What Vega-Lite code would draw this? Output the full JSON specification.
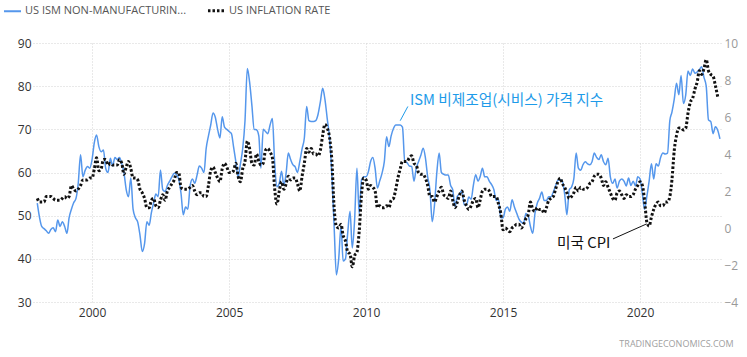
{
"$schema": "https://vega.github.io/schema/vega-lite/v6.json",
"width": 688, "height": 259,
"autosize": {"type": "none"},
"padding": {"left": 33, "top": 43, "right": 26, "bottom": 55},
"title": {"text": "TRADINGECONOMICS.COM", "orient": "bottom", "anchor": "end", "fontSize": 9, "fontWeight": "normal", "color": "#a0a0a0", "font": "Open Sans", "offset": 22, "dx": -4},
"config": {
  "view": {"stroke": null},
  "font": "Open Sans",
  "axis": {"domain": false, "ticks": false, "grid": true, "gridColor": "#d2d2d2", "gridDash": [1, 2], "gridWidth": 1, "labelFontSize": 12, "labelFont": "Open Sans"}
},
"datasets": {"series": [
{"d":"1998-01-01","ism":52.9,"cpi":1.6},{"d":"1998-02-01","ism":49.5,"cpi":1.4},{"d":"1998-03-01","ism":47.5,"cpi":1.4},{"d":"1998-04-01","ism":47.0,"cpi":1.4},{"d":"1998-05-01","ism":46.5,"cpi":1.7},{"d":"1998-06-01","ism":45.9,"cpi":1.7},{"d":"1998-07-01","ism":46.8,"cpi":1.7},{"d":"1998-08-01","ism":47.2,"cpi":1.6},{"d":"1998-09-01","ism":46.3,"cpi":1.5},{"d":"1998-10-01","ism":49.0,"cpi":1.5},{"d":"1998-11-01","ism":47.5,"cpi":1.5},{"d":"1998-12-01","ism":48.6,"cpi":1.6},
{"d":"1999-01-01","ism":47.5,"cpi":1.7},{"d":"1999-02-01","ism":45.9,"cpi":1.6},{"d":"1999-03-01","ism":49.5,"cpi":1.7},{"d":"1999-04-01","ism":51.5,"cpi":2.3},{"d":"1999-05-01","ism":53.0,"cpi":2.1},{"d":"1999-06-01","ism":54.0,"cpi":2.0},{"d":"1999-07-01","ism":57.5,"cpi":2.1},{"d":"1999-08-01","ism":64.1,"cpi":2.3},{"d":"1999-09-01","ism":59.0,"cpi":2.6},{"d":"1999-10-01","ism":60.5,"cpi":2.6},{"d":"1999-11-01","ism":61.4,"cpi":2.6},{"d":"1999-12-01","ism":61.0,"cpi":2.7},
{"d":"2000-01-01","ism":63.0,"cpi":2.7},{"d":"2000-02-01","ism":67.0,"cpi":3.2},{"d":"2000-03-01","ism":68.7,"cpi":3.8},{"d":"2000-04-01","ism":66.0,"cpi":3.1},{"d":"2000-05-01","ism":64.8,"cpi":3.2},{"d":"2000-06-01","ism":65.2,"cpi":3.7},{"d":"2000-07-01","ism":61.0,"cpi":3.7},{"d":"2000-08-01","ism":60.0,"cpi":3.4},{"d":"2000-09-01","ism":63.3,"cpi":3.5},{"d":"2000-10-01","ism":61.5,"cpi":3.4},{"d":"2000-11-01","ism":63.5,"cpi":3.4},{"d":"2000-12-01","ism":63.0,"cpi":3.4},
{"d":"2001-01-01","ism":63.5,"cpi":3.7},{"d":"2001-02-01","ism":62.0,"cpi":3.5},{"d":"2001-03-01","ism":60.0,"cpi":2.9},{"d":"2001-04-01","ism":56.0,"cpi":3.3},{"d":"2001-05-01","ism":54.4,"cpi":3.6},{"d":"2001-06-01","ism":58.7,"cpi":3.2},{"d":"2001-07-01","ism":51.5,"cpi":2.7},{"d":"2001-08-01","ism":49.5,"cpi":2.7},{"d":"2001-09-01","ism":48.5,"cpi":2.6},{"d":"2001-10-01","ism":45.5,"cpi":2.1},{"d":"2001-11-01","ism":41.7,"cpi":1.9},{"d":"2001-12-01","ism":43.5,"cpi":1.6},
{"d":"2002-01-01","ism":48.6,"cpi":1.1},{"d":"2002-02-01","ism":47.8,"cpi":1.1},{"d":"2002-03-01","ism":50.6,"cpi":1.5},{"d":"2002-04-01","ism":53.0,"cpi":1.6},{"d":"2002-05-01","ism":55.0,"cpi":1.2},{"d":"2002-06-01","ism":54.4,"cpi":1.1},{"d":"2002-07-01","ism":60.6,"cpi":1.5},{"d":"2002-08-01","ism":56.0,"cpi":1.8},{"d":"2002-09-01","ism":55.6,"cpi":1.5},{"d":"2002-10-01","ism":57.0,"cpi":2.0},{"d":"2002-11-01","ism":58.0,"cpi":2.2},{"d":"2002-12-01","ism":59.0,"cpi":2.4},
{"d":"2003-01-01","ism":59.8,"cpi":2.6},{"d":"2003-02-01","ism":59.5,"cpi":3.0},{"d":"2003-03-01","ism":58.5,"cpi":3.0},{"d":"2003-04-01","ism":55.2,"cpi":2.2},{"d":"2003-05-01","ism":50.2,"cpi":2.1},{"d":"2003-06-01","ism":52.0,"cpi":2.1},{"d":"2003-07-01","ism":51.5,"cpi":2.1},{"d":"2003-08-01","ism":57.0,"cpi":2.2},{"d":"2003-09-01","ism":58.5,"cpi":2.3},{"d":"2003-10-01","ism":57.5,"cpi":2.0},{"d":"2003-11-01","ism":59.4,"cpi":1.8},{"d":"2003-12-01","ism":61.5,"cpi":1.9},
{"d":"2004-01-01","ism":61.0,"cpi":1.9},{"d":"2004-02-01","ism":60.0,"cpi":1.7},{"d":"2004-03-01","ism":65.5,"cpi":1.7},{"d":"2004-04-01","ism":68.5,"cpi":2.3},{"d":"2004-05-01","ism":71.0,"cpi":3.1},{"d":"2004-06-01","ism":73.8,"cpi":3.3},{"d":"2004-07-01","ism":72.8,"cpi":3.0},{"d":"2004-08-01","ism":70.0,"cpi":2.7},{"d":"2004-09-01","ism":68.0,"cpi":2.5},{"d":"2004-10-01","ism":72.9,"cpi":3.2},{"d":"2004-11-01","ism":70.5,"cpi":3.5},{"d":"2004-12-01","ism":70.0,"cpi":3.3},
{"d":"2005-01-01","ism":69.5,"cpi":3.0},{"d":"2005-02-01","ism":69.0,"cpi":3.0},{"d":"2005-03-01","ism":66.0,"cpi":3.1},{"d":"2005-04-01","ism":62.5,"cpi":3.5},{"d":"2005-05-01","ism":59.0,"cpi":2.8},{"d":"2005-06-01","ism":62.0,"cpi":2.5},{"d":"2005-07-01","ism":65.5,"cpi":3.2},{"d":"2005-08-01","ism":72.0,"cpi":3.6},{"d":"2005-09-01","ism":84.1,"cpi":4.7},{"d":"2005-10-01","ism":81.0,"cpi":4.3},{"d":"2005-11-01","ism":75.5,"cpi":3.5},{"d":"2005-12-01","ism":70.0,"cpi":3.4},
{"d":"2006-01-01","ism":69.9,"cpi":4.0},{"d":"2006-02-01","ism":68.5,"cpi":3.6},{"d":"2006-03-01","ism":61.0,"cpi":3.4},{"d":"2006-04-01","ism":70.0,"cpi":3.5},{"d":"2006-05-01","ism":69.5,"cpi":4.2},{"d":"2006-06-01","ism":69.0,"cpi":4.3},{"d":"2006-07-01","ism":71.0,"cpi":4.1},{"d":"2006-08-01","ism":72.5,"cpi":3.8},{"d":"2006-09-01","ism":62.0,"cpi":2.1},{"d":"2006-10-01","ism":56.7,"cpi":1.3},{"d":"2006-11-01","ism":57.5,"cpi":2.0},{"d":"2006-12-01","ism":60.3,"cpi":2.5},
{"d":"2007-01-01","ism":57.0,"cpi":2.1},{"d":"2007-02-01","ism":60.0,"cpi":2.4},{"d":"2007-03-01","ism":64.5,"cpi":2.8},{"d":"2007-04-01","ism":63.0,"cpi":2.6},{"d":"2007-05-01","ism":61.8,"cpi":2.7},{"d":"2007-06-01","ism":61.3,"cpi":2.7},{"d":"2007-07-01","ism":60.0,"cpi":2.4},{"d":"2007-08-01","ism":62.5,"cpi":2.0},{"d":"2007-09-01","ism":65.5,"cpi":2.8},{"d":"2007-10-01","ism":68.0,"cpi":3.5},{"d":"2007-11-01","ism":75.3,"cpi":4.3},{"d":"2007-12-01","ism":72.0,"cpi":4.1},
{"d":"2008-01-01","ism":71.8,"cpi":4.3},{"d":"2008-02-01","ism":71.8,"cpi":4.0},{"d":"2008-03-01","ism":72.0,"cpi":4.0},{"d":"2008-04-01","ism":73.5,"cpi":3.9},{"d":"2008-05-01","ism":76.3,"cpi":4.2},{"d":"2008-06-01","ism":79.5,"cpi":5.0},{"d":"2008-07-01","ism":77.0,"cpi":5.6},{"d":"2008-08-01","ism":72.5,"cpi":5.4},{"d":"2008-09-01","ism":68.0,"cpi":4.9},{"d":"2008-10-01","ism":59.8,"cpi":3.7},{"d":"2008-11-01","ism":47.5,"cpi":1.1},{"d":"2008-12-01","ism":36.3,"cpi":0.1},
{"d":"2009-01-01","ism":40.0,"cpi":0.0},{"d":"2009-02-01","ism":47.5,"cpi":0.2},{"d":"2009-03-01","ism":39.5,"cpi":-0.4},{"d":"2009-04-01","ism":40.0,"cpi":-0.7},{"d":"2009-05-01","ism":46.0,"cpi":-1.3},{"d":"2009-06-01","ism":51.0,"cpi":-1.4},{"d":"2009-07-01","ism":42.5,"cpi":-2.1},{"d":"2009-08-01","ism":49.0,"cpi":-1.5},{"d":"2009-09-01","ism":61.0,"cpi":-1.3},{"d":"2009-10-01","ism":50.5,"cpi":-0.2},{"d":"2009-11-01","ism":58.3,"cpi":1.8},{"d":"2009-12-01","ism":59.0,"cpi":2.7},
{"d":"2010-01-01","ism":59.0,"cpi":2.6},{"d":"2010-02-01","ism":60.2,"cpi":2.1},{"d":"2010-03-01","ism":62.5,"cpi":2.3},{"d":"2010-04-01","ism":63.5,"cpi":2.2},{"d":"2010-05-01","ism":61.0,"cpi":2.0},{"d":"2010-06-01","ism":56.4,"cpi":1.1},{"d":"2010-07-01","ism":58.0,"cpi":1.2},{"d":"2010-08-01","ism":59.8,"cpi":1.1},{"d":"2010-09-01","ism":62.5,"cpi":1.1},{"d":"2010-10-01","ism":68.3,"cpi":1.2},{"d":"2010-11-01","ism":66.0,"cpi":1.1},{"d":"2010-12-01","ism":68.5,"cpi":1.5},
{"d":"2011-01-01","ism":70.2,"cpi":1.6},{"d":"2011-02-01","ism":71.0,"cpi":2.1},{"d":"2011-03-01","ism":71.0,"cpi":2.7},{"d":"2011-04-01","ism":71.0,"cpi":3.2},{"d":"2011-05-01","ism":70.5,"cpi":3.6},{"d":"2011-06-01","ism":62.5,"cpi":3.6},{"d":"2011-07-01","ism":62.3,"cpi":3.6},{"d":"2011-08-01","ism":61.5,"cpi":3.8},{"d":"2011-09-01","ism":61.4,"cpi":3.9},{"d":"2011-10-01","ism":58.0,"cpi":3.5},{"d":"2011-11-01","ism":61.0,"cpi":3.4},{"d":"2011-12-01","ism":62.5,"cpi":3.0},
{"d":"2012-01-01","ism":64.0,"cpi":2.9},{"d":"2012-02-01","ism":65.6,"cpi":2.9},{"d":"2012-03-01","ism":63.5,"cpi":2.7},{"d":"2012-04-01","ism":59.0,"cpi":2.3},{"d":"2012-05-01","ism":56.0,"cpi":1.7},{"d":"2012-06-01","ism":48.6,"cpi":1.7},{"d":"2012-07-01","ism":52.5,"cpi":1.4},{"d":"2012-08-01","ism":60.0,"cpi":1.7},{"d":"2012-09-01","ism":64.5,"cpi":2.0},{"d":"2012-10-01","ism":60.0,"cpi":2.2},{"d":"2012-11-01","ism":59.6,"cpi":1.8},{"d":"2012-12-01","ism":59.4,"cpi":1.7},
{"d":"2013-01-01","ism":59.4,"cpi":1.6},{"d":"2013-02-01","ism":57.0,"cpi":2.0},{"d":"2013-03-01","ism":56.0,"cpi":1.5},{"d":"2013-04-01","ism":52.1,"cpi":1.1},{"d":"2013-05-01","ism":54.5,"cpi":1.4},{"d":"2013-06-01","ism":55.0,"cpi":1.8},{"d":"2013-07-01","ism":55.9,"cpi":2.0},{"d":"2013-08-01","ism":52.5,"cpi":1.5},{"d":"2013-09-01","ism":52.5,"cpi":1.2},{"d":"2013-10-01","ism":54.3,"cpi":1.0},{"d":"2013-11-01","ism":53.8,"cpi":1.2},{"d":"2013-12-01","ism":57.0,"cpi":1.5},
{"d":"2014-01-01","ism":59.5,"cpi":1.6},{"d":"2014-02-01","ism":58.0,"cpi":1.1},{"d":"2014-03-01","ism":59.0,"cpi":1.5},{"d":"2014-04-01","ism":61.0,"cpi":2.0},{"d":"2014-05-01","ism":59.0,"cpi":2.1},{"d":"2014-06-01","ism":59.0,"cpi":2.1},{"d":"2014-07-01","ism":58.0,"cpi":2.0},{"d":"2014-08-01","ism":57.2,"cpi":1.7},{"d":"2014-09-01","ism":56.0,"cpi":1.7},{"d":"2014-10-01","ism":53.5,"cpi":1.7},{"d":"2014-11-01","ism":53.8,"cpi":1.3},{"d":"2014-12-01","ism":49.5,"cpi":0.8},
{"d":"2015-01-01","ism":49.5,"cpi":-0.1},{"d":"2015-02-01","ism":51.5,"cpi":0.0},{"d":"2015-03-01","ism":52.0,"cpi":-0.1},{"d":"2015-04-01","ism":51.0,"cpi":-0.2},{"d":"2015-05-01","ism":53.7,"cpi":0.0},{"d":"2015-06-01","ism":52.0,"cpi":0.1},{"d":"2015-07-01","ism":50.6,"cpi":0.2},{"d":"2015-08-01","ism":49.2,"cpi":0.2},{"d":"2015-09-01","ism":48.5,"cpi":0.0},{"d":"2015-10-01","ism":48.2,"cpi":0.2},{"d":"2015-11-01","ism":50.5,"cpi":0.5},{"d":"2015-12-01","ism":50.0,"cpi":0.7},
{"d":"2016-01-01","ism":47.5,"cpi":1.4},{"d":"2016-02-01","ism":45.9,"cpi":1.0},{"d":"2016-03-01","ism":50.5,"cpi":0.9},{"d":"2016-04-01","ism":52.9,"cpi":1.1},{"d":"2016-05-01","ism":54.0,"cpi":1.0},{"d":"2016-06-01","ism":55.5,"cpi":1.0},{"d":"2016-07-01","ism":53.5,"cpi":0.8},{"d":"2016-08-01","ism":53.5,"cpi":1.1},{"d":"2016-09-01","ism":54.4,"cpi":1.5},{"d":"2016-10-01","ism":54.4,"cpi":1.6},{"d":"2016-11-01","ism":55.5,"cpi":1.7},{"d":"2016-12-01","ism":56.9,"cpi":2.1},
{"d":"2017-01-01","ism":58.2,"cpi":2.5},{"d":"2017-02-01","ism":58.3,"cpi":2.7},{"d":"2017-03-01","ism":58.0,"cpi":2.4},{"d":"2017-04-01","ism":55.0,"cpi":2.2},{"d":"2017-05-01","ism":50.2,"cpi":1.9},{"d":"2017-06-01","ism":56.0,"cpi":1.6},{"d":"2017-07-01","ism":56.6,"cpi":1.7},{"d":"2017-08-01","ism":58.5,"cpi":1.9},{"d":"2017-09-01","ism":64.5,"cpi":2.2},{"d":"2017-10-01","ism":61.0,"cpi":2.0},{"d":"2017-11-01","ism":60.5,"cpi":2.2},{"d":"2017-12-01","ism":61.8,"cpi":2.1},
{"d":"2018-01-01","ism":62.5,"cpi":2.1},{"d":"2018-02-01","ism":62.0,"cpi":2.2},{"d":"2018-03-01","ism":61.8,"cpi":2.4},{"d":"2018-04-01","ism":62.5,"cpi":2.5},{"d":"2018-05-01","ism":64.5,"cpi":2.8},{"d":"2018-06-01","ism":63.5,"cpi":2.9},{"d":"2018-07-01","ism":63.0,"cpi":2.9},{"d":"2018-08-01","ism":64.1,"cpi":2.7},{"d":"2018-09-01","ism":62.5,"cpi":2.3},{"d":"2018-10-01","ism":61.8,"cpi":2.5},{"d":"2018-11-01","ism":63.3,"cpi":2.2},{"d":"2018-12-01","ism":59.0,"cpi":1.9},
{"d":"2019-01-01","ism":57.5,"cpi":1.6},{"d":"2019-02-01","ism":58.5,"cpi":1.5},{"d":"2019-03-01","ism":56.4,"cpi":1.9},{"d":"2019-04-01","ism":58.0,"cpi":2.0},{"d":"2019-05-01","ism":58.5,"cpi":1.8},{"d":"2019-06-01","ism":58.0,"cpi":1.6},{"d":"2019-07-01","ism":56.9,"cpi":1.8},{"d":"2019-08-01","ism":58.7,"cpi":1.7},{"d":"2019-09-01","ism":57.0,"cpi":1.7},{"d":"2019-10-01","ism":58.0,"cpi":1.8},{"d":"2019-11-01","ism":56.9,"cpi":2.1},{"d":"2019-12-01","ism":59.0,"cpi":2.3},
{"d":"2020-01-01","ism":58.5,"cpi":2.5},{"d":"2020-02-01","ism":55.0,"cpi":2.3},{"d":"2020-03-01","ism":51.5,"cpi":1.5},{"d":"2020-04-01","ism":54.5,"cpi":0.3},{"d":"2020-05-01","ism":58.0,"cpi":0.1},{"d":"2020-06-01","ism":62.0,"cpi":0.6},{"d":"2020-07-01","ism":58.5,"cpi":1.0},{"d":"2020-08-01","ism":62.0,"cpi":1.3},{"d":"2020-09-01","ism":61.5,"cpi":1.4},{"d":"2020-10-01","ism":63.5,"cpi":1.2},{"d":"2020-11-01","ism":64.5,"cpi":1.2},{"d":"2020-12-01","ism":64.3,"cpi":1.4},
{"d":"2021-01-01","ism":64.5,"cpi":1.4},{"d":"2021-02-01","ism":72.0,"cpi":1.7},{"d":"2021-03-01","ism":74.0,"cpi":2.6},{"d":"2021-04-01","ism":77.0,"cpi":4.2},{"d":"2021-05-01","ism":80.7,"cpi":5.0},{"d":"2021-06-01","ism":78.0,"cpi":5.4},{"d":"2021-07-01","ism":82.5,"cpi":5.4},{"d":"2021-08-01","ism":76.0,"cpi":5.3},{"d":"2021-09-01","ism":78.0,"cpi":5.4},{"d":"2021-10-01","ism":83.5,"cpi":6.2},{"d":"2021-11-01","ism":82.5,"cpi":6.8},{"d":"2021-12-01","ism":84.0,"cpi":7.0},
{"d":"2022-01-01","ism":83.0,"cpi":7.5},{"d":"2022-02-01","ism":83.3,"cpi":7.9},{"d":"2022-03-01","ism":83.8,"cpi":8.5},{"d":"2022-04-01","ism":84.5,"cpi":8.3},{"d":"2022-05-01","ism":82.1,"cpi":8.6},{"d":"2022-06-01","ism":80.0,"cpi":9.1},{"d":"2022-07-01","ism":72.2,"cpi":8.5},{"d":"2022-08-01","ism":71.8,"cpi":8.3},{"d":"2022-09-01","ism":69.0,"cpi":8.2},{"d":"2022-10-01","ism":70.6,"cpi":7.7},{"d":"2022-11-01","ism":69.8,"cpi":7.1},{"d":"2022-12-01","ism":67.8,"cpi":null}
]},
"data": {"name": "series"},
"layer": [
  {"layer": [
    {"mark": {"type": "line", "interpolate": "monotone", "strokeWidth": 1.5, "clip": true},
     "encoding": {
       "x": {"field": "d", "type": "temporal", "title": null, "scale": {"type": "utc", "domain": [{"year": 1997, "month": 11, "date": 5, "utc": true}, {"year": 2022, "month": 12, "date": 15, "utc": true}]},
             "axis": {"title": null, "format": "%Y", "labelColor": "#333333", "labelPadding": 5, "values": [{"year": 2000, "utc": true}, {"year": 2005, "utc": true}, {"year": 2010, "utc": true}, {"year": 2015, "utc": true}, {"year": 2020, "utc": true}]}},
       "y": {"field": "ism", "type": "quantitative", "title": null, "scale": {"domain": [30, 90], "nice": false, "zero": false},
             "axis": {"title": null, "orient": "left", "values": [30, 40, 50, 60, 70, 80, 90], "labelColor": "#333333", "labelPadding": 2}},
       "color": {"datum": "US ISM NON-MANUFACTURIN...", "type": "nominal",
                 "scale": {"domain": ["US ISM NON-MANUFACTURIN...", "US INFLATION RATE"], "range": ["#5597ec", "#111111"]},
                 "legend": {"orient": "none", "legendX": -26, "legendY": -38, "direction": "horizontal", "title": null, "symbolType": "stroke", "symbolSize": 290, "symbolStrokeWidth": 2, "labelFontSize": 11, "labelColor": "#555555", "labelLimit": 400, "columnPadding": 14, "labelOffset": 7,
                   "encode": {"symbols": {"update": {"strokeDash": {"signal": "datum.value === 'US INFLATION RATE' ? [2.5, 2] : [1, 0]"}, "strokeWidth": {"signal": "datum.value === 'US INFLATION RATE' ? 3 : 2"}}}}}}
     }},
    {"data": {"values": [{}]},
     "mark": {"type": "rule", "color": "#1e9be9", "strokeWidth": 1},
     "encoding": {
       "x": {"datum": {"year": 2011, "month": 4, "date": 1, "utc": true}, "type": "temporal", "title": null,
             "axis": {"title": null, "format": "%Y", "labelColor": "#333333", "labelPadding": 5, "values": [{"year": 2000, "utc": true}, {"year": 2005, "utc": true}, {"year": 2010, "utc": true}, {"year": 2015, "utc": true}, {"year": 2020, "utc": true}]}},
       "x2": {"datum": {"year": 2011, "month": 7, "date": 12, "utc": true}},
       "y": {"datum": 72.0, "type": "quantitative", "title": null,
             "axis": {"title": null, "orient": "left", "values": [30, 40, 50, 60, 70, 80, 90], "labelColor": "#333333", "labelPadding": 2}},
       "y2": {"datum": 75.3}
     }},
    {"data": {"values": [{}]},
     "mark": {"type": "text", "text": "ISM 비제조업(시비스) 가격 지수", "align": "left", "baseline": "middle", "fontSize": 14.7, "font": "Noto Sans CJK KR", "color": "#1e9be9"},
     "encoding": {
       "x": {"datum": {"year": 2011, "month": 8, "date": 8, "utc": true}, "type": "temporal", "title": null,
             "axis": {"title": null, "format": "%Y", "labelColor": "#333333", "labelPadding": 5, "values": [{"year": 2000, "utc": true}, {"year": 2005, "utc": true}, {"year": 2010, "utc": true}, {"year": 2015, "utc": true}, {"year": 2020, "utc": true}]}},
       "y": {"datum": 76.6, "type": "quantitative", "title": null,
             "axis": {"title": null, "orient": "left", "values": [30, 40, 50, 60, 70, 80, 90], "labelColor": "#333333", "labelPadding": 2}}
     }}
  ]},
  {"layer": [
    {"mark": {"type": "line", "interpolate": "monotone", "strokeWidth": 3, "strokeDash": [2.5, 2], "clip": true},
     "encoding": {
       "x": {"field": "d", "type": "temporal", "title": null,
             "axis": {"title": null, "format": "%Y", "labelColor": "#333333", "labelPadding": 5, "values": [{"year": 2000, "utc": true}, {"year": 2005, "utc": true}, {"year": 2010, "utc": true}, {"year": 2015, "utc": true}, {"year": 2020, "utc": true}]}},
       "y": {"field": "cpi", "type": "quantitative", "title": null, "scale": {"domain": [-4, 10], "nice": false, "zero": false},
             "axis": {"title": null, "orient": "right", "values": [-4, -2, 0, 2, 4, 6, 8, 10], "labelColor": "#999999", "labelPadding": 3}},
       "color": {"datum": "US INFLATION RATE", "type": "nominal"}
     }},
    {"data": {"values": [{}]},
     "mark": {"type": "rule", "color": "#111111", "strokeWidth": 1},
     "encoding": {
       "x": {"datum": {"year": 2019, "month": 1, "date": 5, "utc": true}, "type": "temporal", "title": null,
             "axis": {"title": null, "format": "%Y", "labelColor": "#333333", "labelPadding": 5, "values": [{"year": 2000, "utc": true}, {"year": 2005, "utc": true}, {"year": 2010, "utc": true}, {"year": 2015, "utc": true}, {"year": 2020, "utc": true}]}},
       "x2": {"datum": {"year": 2020, "month": 3, "date": 28, "utc": true}},
       "y": {"datum": -0.59, "type": "quantitative", "title": null,
             "axis": {"title": null, "orient": "right", "values": [-4, -2, 0, 2, 4, 6, 8, 10], "labelColor": "#999999", "labelPadding": 3}},
       "y2": {"datum": 0.22}
     }},
    {"data": {"values": [{}]},
     "mark": {"type": "text", "text": "미국 CPI", "align": "left", "baseline": "middle", "fontSize": 14.7, "font": "Noto Sans CJK KR", "color": "#111111"},
     "encoding": {
       "x": {"datum": {"year": 2016, "month": 12, "date": 20, "utc": true}, "type": "temporal", "title": null,
             "axis": {"title": null, "format": "%Y", "labelColor": "#333333", "labelPadding": 5, "values": [{"year": 2000, "utc": true}, {"year": 2005, "utc": true}, {"year": 2010, "utc": true}, {"year": 2015, "utc": true}, {"year": 2020, "utc": true}]}},
       "y": {"datum": -0.86, "type": "quantitative", "title": null,
             "axis": {"title": null, "orient": "right", "values": [-4, -2, 0, 2, 4, 6, 8, 10], "labelColor": "#999999", "labelPadding": 3}}
     }}
  ]}
],
"resolve": {"scale": {"y": "independent"}}
}
